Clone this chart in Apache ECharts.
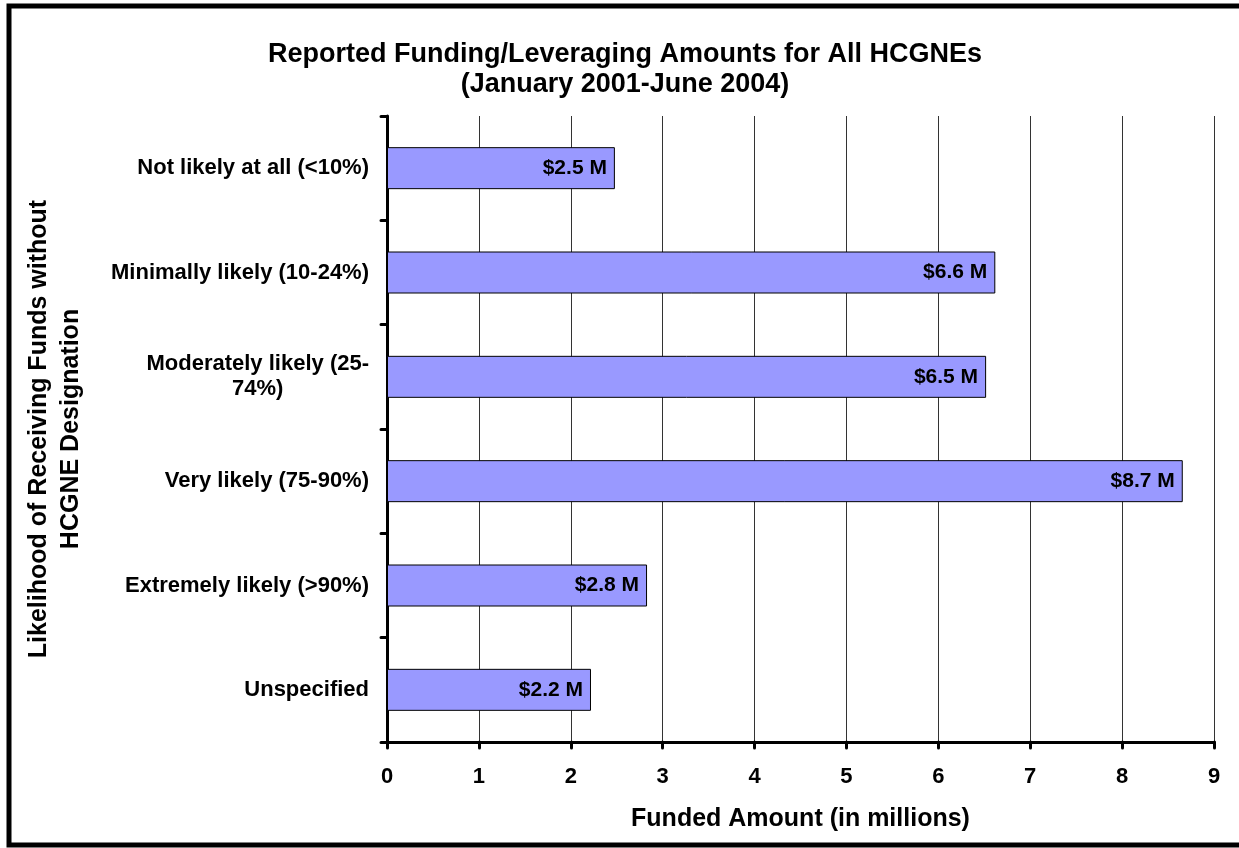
<!DOCTYPE html>
<html>
<head>
<meta charset="utf-8">
<script src="https://cdn.jsdelivr.net/npm/echarts@6/dist/echarts.min.js"></script>
<style>
html,body{margin:0;padding:0;background:#fff;}
#chart{width:1239px;height:848px;}
</style>
</head>
<body>
<div id="chart"></div>
<script>
var categories = [
  'Not likely at all (<10%)',
  'Minimally likely (10-24%)',
  'Moderately likely (25-\n74%)              ',
  'Very likely (75-90%)',
  'Extremely likely (>90%)',
  'Unspecified'
];
var values = [2.48, 6.62, 6.52, 8.66, 2.83, 2.22];
var valueLabels = ['$2.5 M', '$6.6 M', '$6.5 M', '$8.7 M', '$2.8 M', '$2.2 M'];
var xTicks = [0, 1, 2, 3, 4, 5, 6, 7, 8, 9];

var font = 'Arial, "Liberation Sans", sans-serif';
var chart = echarts.init(document.getElementById('chart'));
chart.setOption({
  backgroundColor: '#fff',
  animation: false,
  title: {
    text: 'Reported Funding/Leveraging Amounts for All HCGNEs\n(January 2001-June 2004)',
    left: 620, top: 35, textAlign: 'center',
    textStyle: { fontFamily: font, fontSize: 27, fontWeight: 'bold', color: '#000', lineHeight: 30 }
  },
  graphic: [{
    type: 'rect', silent: true,
    shape: { x: 9, y: 6, width: 1260, height: 839 },
    style: { fill: 'none', stroke: '#000', lineWidth: 5 }
  }],
  grid: { left: 387, right: 25, top: 116, bottom: 106, containLabel: false },
  xAxis: {
    type: 'value', min: 0, max: 9, interval: 1,
    name: 'Funded Amount (in millions)', nameLocation: 'middle', nameGap: 65,
    nameTextStyle: { fontFamily: font, fontSize: 25, fontWeight: 'bold', color: '#000' },
    axisLine: { show: true, lineStyle: { color: '#000', width: 3 } },
    axisTick: { show: true, length: 6, lineStyle: { color: '#000', width: 3, cap: 'round' } },
    axisLabel: { margin: 24, fontFamily: font, fontSize: 22, fontWeight: 'bold', color: '#000',
      formatter: function (v) { return xTicks.indexOf(v) >= 0 ? String(v) : ''; } },
    splitLine: { show: true, lineStyle: { color: '#333', width: 1 } }
  },
  yAxis: {
    type: 'category', data: categories, inverse: true,
    name: 'Likelihood of Receiving Funds without\nHCGNE Designation',
    nameLocation: 'middle', nameGap: 300, nameRotate: 90,
    nameTextStyle: { fontFamily: font, fontSize: 25, fontWeight: 'bold', color: '#000', lineHeight: 32 },
    axisLine: { show: true, lineStyle: { color: '#000', width: 3 } },
    axisTick: { show: true, length: 6, lineStyle: { color: '#000', width: 3, cap: 'round' } },
    axisLabel: { margin: 18, fontFamily: font, fontSize: 22, fontWeight: 'bold', color: '#000', lineHeight: 25, interval: 0 }
  },
  series: [{
    type: 'bar', data: values, barWidth: 42,
    itemStyle: { color: '#9999FF', borderColor: '#000', borderWidth: 1 },
    label: {
      show: true, position: 'insideRight', distance: 8,
      fontFamily: font, fontSize: 21, fontWeight: 'bold', color: '#000',
      formatter: function (p) { return valueLabels[p.dataIndex]; }
    }
  }]
});
</script>
</body>
</html>
